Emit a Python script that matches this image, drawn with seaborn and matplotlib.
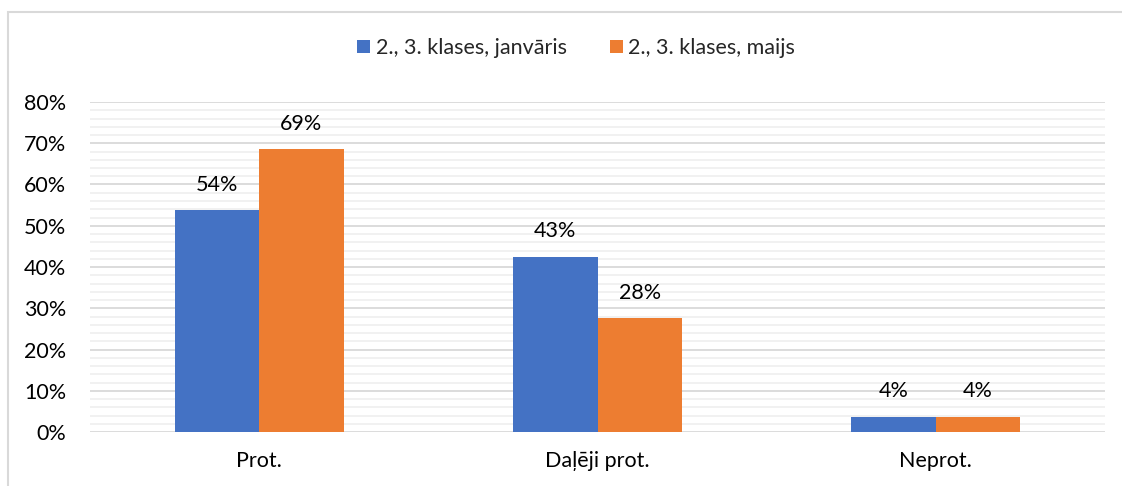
import matplotlib
matplotlib.use("Agg")
import matplotlib.pyplot as plt
import seaborn as sns
import pandas as pd
from matplotlib.patches import Rectangle
from matplotlib.ticker import MultipleLocator, PercentFormatter

categories = ["Prot.", "Daļēji prot.", "Neprot."]
series_names = ["2., 3. klases, janvāris", "2., 3. klases, maijs"]
jan_values = [0.537, 0.425, 0.037]
may_values = [0.686, 0.276, 0.037]
jan_labels = ["54%", "43%", "4%"]
may_labels = ["69%", "28%", "4%"]
colors = ["#4472C4", "#ED7D31"]

df = pd.DataFrame({
    "cat": categories * 2,
    "series": [series_names[0]] * 3 + [series_names[1]] * 3,
    "value": jan_values + may_values,
})

sns.set_theme(style="white")
plt.rcParams["font.family"] = ["Lato", "DejaVu Sans"]
FS = 15.5

fig = plt.figure(figsize=(11.22, 4.86), dpi=100)
ax = fig.add_axes([90 / 1122, 1 - 432 / 486, (1105 - 90) / 1122, (432 - 102) / 486])

sns.barplot(data=df, x="cat", y="value", hue="series", palette=colors,
            width=0.5, ax=ax, saturation=1, legend=True, edgecolor="none", linewidth=0)

ax.set_ylim(0, 0.8)
ax.set_xlim(-0.5, 2.5)
ax.yaxis.set_major_locator(MultipleLocator(0.1))
ax.yaxis.set_minor_locator(MultipleLocator(0.02))
ax.yaxis.set_major_formatter(PercentFormatter(1.0, decimals=0))
ax.grid(which="major", axis="y", color="#d9d9d9", linewidth=1.3, zorder=0)
ax.grid(which="minor", axis="y", color="#f0f0f0", linewidth=1.3, zorder=0)
ax.set_axisbelow(True)
for s in ax.spines.values():
    s.set_visible(False)
ax.tick_params(axis="both", which="both", length=0, labelsize=FS, colors="#000000")
ax.tick_params(axis="y", pad=17)
ax.tick_params(axis="x", pad=14)
ax.set_xlabel("")
ax.set_ylabel("")

for cont, labs in zip(ax.containers, [jan_labels, may_labels]):
    ax.bar_label(cont, labels=labs, padding=11, fontsize=FS, color="#000000")

handles, labels = ax.get_legend_handles_labels()
ax.legend(handles, labels, loc="center", bbox_to_anchor=(576 / 1122, (486 - 48) / 486),
          bbox_transform=fig.transFigure, ncol=2, frameon=False, fontsize=FS,
          handlelength=0.6, handleheight=0.6, handletextpad=0.25, columnspacing=2.0)

fig.patches.append(Rectangle((8 / 1122, -0.1), 1.2, 1 - 12 / 486 + 0.1,
                             transform=fig.transFigure, fill=False,
                             edgecolor="#d9d9d9", linewidth=1.5))

fig.savefig("out.png", dpi=100)
